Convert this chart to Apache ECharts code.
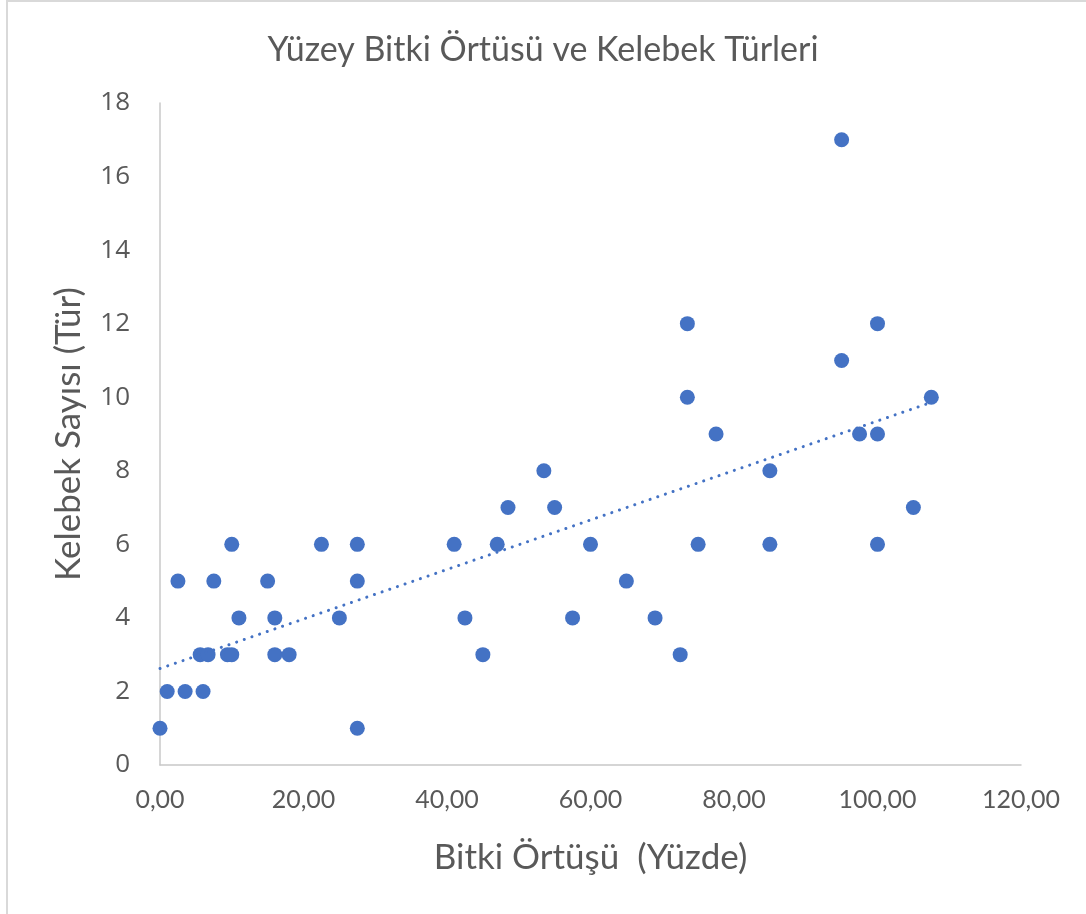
<!DOCTYPE html>
<html>
<head>
<meta charset="utf-8">
<script src="https://cdn.jsdelivr.net/npm/echarts@6/dist/echarts.min.js"></script>
<style>
html,body{margin:0;padding:0;background:#fff;}
#chart{width:1086px;height:914px;}
</style>
</head>
<body>
<div id="chart"></div>
<script>
const chartTitle = "Yüzey Bitki Örtüsü ve Kelebek Türleri";
const xAxisTitle = "Bitki Örtüşü  (Yüzde)";
const yAxisTitle = "Kelebek Sayısı (Tür)";

// Bitki örtüsü yüzdesi (x)
const coverPct = [
  0, 1, 2.5, 3.5, 5.6, 6, 6.7, 7.5, 9.4, 10, 10, 11,
  15, 16, 16, 18, 22.5, 25, 27.5, 27.5, 27.5,
  41, 42.5, 45, 47, 48.5, 53.5, 55, 57.5, 60,
  65, 69, 72.5, 73.5, 73.5, 75, 77.5,
  85, 85, 95, 95, 97.5, 100, 100, 100, 105, 107.5
];
// Kelebek sayısı (y)
const speciesCount = [
  1, 2, 5, 2, 3, 2, 3, 5, 3, 6, 3, 4,
  5, 4, 3, 3, 6, 4, 6, 5, 1,
  6, 4, 3, 6, 7, 8, 7, 4, 6,
  5, 4, 3, 12, 10, 6, 9,
  8, 6, 17, 11, 9, 12, 9, 6, 7, 10
];

const points = coverPct.map((x, i) => [x, speciesCount[i]]);

// linear least-squares trendline (like Excel's linear trendline)
const n = points.length;
let sx = 0, sy = 0, sxy = 0, sxx = 0;
points.forEach(([x, y]) => { sx += x; sy += y; sxy += x * y; sxx += x * x; });
const slope = (n * sxy - sx * sy) / (n * sxx - sx * sx);
const intercept = (sy - slope * sx) / n;
const xMin = Math.min(...coverPct), xMax = Math.max(...coverPct);
const trend = [[xMin, intercept + slope * xMin], [xMax, intercept + slope * xMax]];

const textColor = '#595959';
const axisColor = '#C8C8C8';

const chart = echarts.init(document.getElementById('chart'));
chart.setOption({
  animation: false,
  backgroundColor: '#fff',
  graphic: [{
    type: 'rect',
    shape: { x: 7, y: 1, width: 1100, height: 1000 },
    style: { fill: 'none', stroke: '#D9D9D9', lineWidth: 2 },
    silent: true
  }],
  title: {
    text: chartTitle,
    left: 'center',
    top: 28,
    textStyle: { fontFamily: 'Lato', fontSize: 34, fontWeight: 'normal', color: textColor }
  },
  grid: { left: 160, right: 65, top: 103, bottom: 149 },
  xAxis: {
    type: 'value',
    min: 0, max: 120, interval: 20,
    name: xAxisTitle,
    nameLocation: 'middle',
    nameGap: 75,
    nameTextStyle: { fontFamily: 'Lato', fontSize: 35, color: textColor },
    axisLine: { show: true, onZero: false, lineStyle: { color: axisColor, width: 1.5 } },
    axisTick: { show: false },
    splitLine: { show: false },
    axisLabel: {
      margin: 22,
      fontFamily: 'Lato', fontSize: 25, color: textColor,
      formatter: v => v.toFixed(2).replace('.', ',')
    }
  },
  yAxis: {
    type: 'value',
    min: 0, max: 18, interval: 2,
    name: yAxisTitle,
    nameLocation: 'middle',
    nameGap: 74,
    nameRotate: 90,
    nameTextStyle: { fontFamily: 'Lato', fontSize: 35, color: textColor },
    axisLine: { show: true, lineStyle: { color: axisColor, width: 1.5 } },
    axisTick: { show: false },
    splitLine: { show: false },
    axisLabel: { margin: 30, fontFamily: 'Open Sans', fontSize: 26, color: textColor }
  },
  series: [
    {
      type: 'scatter',
      data: points,
      symbol: 'circle',
      symbolSize: 15,
      itemStyle: { color: '#4472C4', opacity: 1 },
      z: 3
    },
    {
      type: 'line',
      data: trend,
      showSymbol: false,
      symbol: 'none',
      lineStyle: { color: '#4472C4', width: 3, type: [0.1, 8], cap: 'round' },
      z: 4
    }
  ]
});
</script>
</body>
</html>
